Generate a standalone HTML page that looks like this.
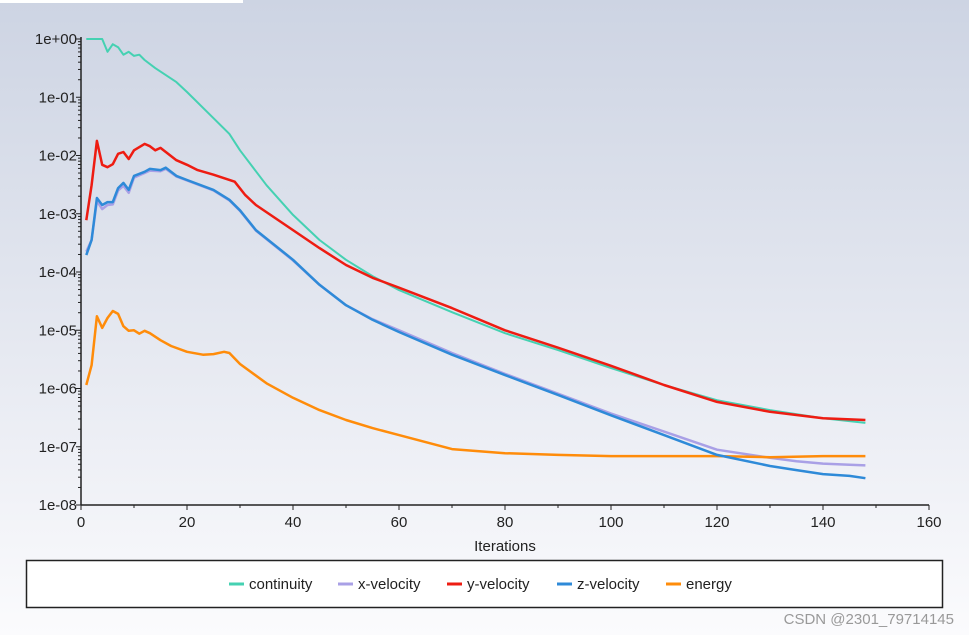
<!DOCTYPE html>
<html><head><meta charset="utf-8"><style>
body{margin:0;width:969px;height:635px;overflow:hidden;font-family:"Liberation Sans","DejaVu Sans",sans-serif;background:linear-gradient(#cdd4e3 0%,#e6e9f1 55%,#fbfbfd 100%);position:relative}
svg{position:absolute;left:0;top:0}
</style></head><body>
<svg width="969" height="635">
<rect x="0" y="0" width="243" height="3" fill="#fff"/>
<g id="plot"></g>
<text x="505" y="551" text-anchor="middle" font-size="15" fill="#222">Iterations</text>
<rect x="26.5" y="560.5" width="916" height="47" fill="#fff" stroke="#222" stroke-width="1.5"/>
<g id="legend"></g>
<text x="954" y="624" text-anchor="end" font-size="15" fill="#999">CSDN @2301_79714145</text>
</svg>
<script>
const xTicks=[0,20,40,60,80,100,120,140,160];
const yTickLabels=["1e+00","1e-01","1e-02","1e-03","1e-04","1e-05","1e-06","1e-07","1e-08"];
const seriesNames=["continuity","x-velocity","y-velocity","z-velocity","energy"];
const seriesColors=["#45d1b2","#a9a0e6","#ee1c12","#2e8ad8","#ff8c0a"];
const contIter=[1,4,5,6,7,8,9,10,11,12,14,16,18,20,25,28,30,35,40,45,50,55,60,70,80,90,100,110,120,130,140,148];
const contLog=[0,0,-0.22,-0.09,-0.14,-0.27,-0.22,-0.29,-0.27,-0.36,-0.50,-0.62,-0.74,-0.91,-1.36,-1.63,-1.91,-2.51,-3.02,-3.45,-3.79,-4.07,-4.31,-4.69,-5.05,-5.34,-5.65,-5.94,-6.20,-6.37,-6.51,-6.59];
const yvIter=[1,2,3,4,5,6,7,8,9,10,12,13,14,15,16,18,20,22,25,27,29,31,33,40,45,50,55,60,70,80,90,100,110,120,130,140,148];
const yvLog=[-3.11,-2.51,-1.75,-2.16,-2.20,-2.15,-1.97,-1.94,-2.06,-1.91,-1.80,-1.84,-1.91,-1.87,-1.94,-2.08,-2.16,-2.25,-2.33,-2.39,-2.45,-2.68,-2.85,-3.28,-3.59,-3.88,-4.10,-4.27,-4.62,-5.00,-5.30,-5.61,-5.94,-6.23,-6.40,-6.51,-6.54];
const zvIter=[1,2,3,4,5,6,7,8,9,10,12,13,15,16,18,20,25,28,30,33,40,45,50,55,60,70,80,90,100,110,120,130,135,140,145,148];
const zvLog=[-3.71,-3.45,-2.73,-2.85,-2.80,-2.80,-2.56,-2.47,-2.59,-2.35,-2.28,-2.23,-2.25,-2.21,-2.35,-2.42,-2.59,-2.76,-2.94,-3.28,-3.79,-4.22,-4.57,-4.82,-5.03,-5.42,-5.77,-6.11,-6.46,-6.80,-7.14,-7.33,-7.40,-7.47,-7.50,-7.54];
const xvIter=zvIter;
const xvLog=[-3.65,-3.45,-2.78,-2.92,-2.85,-2.84,-2.60,-2.52,-2.64,-2.38,-2.30,-2.26,-2.27,-2.23,-2.36,-2.43,-2.60,-2.77,-2.95,-3.29,-3.80,-4.22,-4.57,-4.81,-5.00,-5.39,-5.75,-6.09,-6.43,-6.74,-7.05,-7.19,-7.25,-7.29,-7.31,-7.32];
const enIter=[1,2,3,4,5,6,7,8,9,10,11,12,13,15,17,20,23,25,27,28,30,35,40,45,50,55,60,70,80,90,100,110,120,130,140,148];
const enLog=[-5.94,-5.60,-4.76,-4.96,-4.79,-4.67,-4.72,-4.93,-5.01,-5.00,-5.06,-5.01,-5.05,-5.17,-5.27,-5.37,-5.42,-5.41,-5.37,-5.39,-5.58,-5.91,-6.16,-6.37,-6.54,-6.68,-6.80,-7.04,-7.11,-7.14,-7.16,-7.16,-7.16,-7.18,-7.16,-7.16];

const X0=81,X1=929,Y0=39,Y1=505;
const xs=v=>X0+(v-0)/(160-0)*(X1-X0);
const ys=l=>Y0+(0-l)/8*(Y1-Y0);
const NS="http://www.w3.org/2000/svg";
const plot=document.getElementById('plot');
function mk(tag,attrs,parent){const e=document.createElementNS(NS,tag);for(const k in attrs)e.setAttribute(k,attrs[k]);parent.appendChild(e);return e;}
// axes
let a=mk('line',{x1:X0,y1:Y0-2,x2:X0,y2:Y1,stroke:'#222','stroke-width':1.5},plot);


a=mk('line',{x1:X0,y1:Y1,x2:X1,y2:Y1,stroke:'#222','stroke-width':1.5},plot);


yTickLabels.forEach((t,i)=>{
  const y=ys(-i);
  mk('line',{x1:X0-5,y1:y,x2:X0,y2:y,stroke:'#222'},plot);
  const tx=mk('text',{x:X0-4,y:y+5,'text-anchor':'end','font-size':15,fill:'#222'},plot);
  tx.textContent=t;
  
  
  if(i<8){for(let m=2;m<10;m++){const yy=ys(-i-1+Math.log10(m));mk('line',{x1:X0-3,y1:yy,x2:X0,y2:yy,stroke:'#222'},plot);}}
});
for(let v=0;v<=160;v+=10){const x=xs(v);mk('line',{x1:x,y1:Y1,x2:x,y2:Y1+(v%20?3:5),stroke:'#222'},plot);}
xTicks.forEach(v=>{
  const tx=mk('text',{x:xs(v),y:Y1+22,'text-anchor':'middle','font-size':15,fill:'#222'},plot);
  tx.textContent=v;
  
  
});
const series=[[contIter,contLog],[xvIter,xvLog],[yvIter,yvLog],[zvIter,zvLog],[enIter,enLog]];
const order=[0,1,2,4,3];
order.forEach(i=>{
  const [it,lg]=series[i];
  const d=it.map((v,j)=>(j?'L':'M')+xs(v).toFixed(1)+','+ys(lg[j]).toFixed(1)).join('');
  const p=mk('path',{d:d,fill:'none',stroke:seriesColors[i],'stroke-width':i==0?2:2.5,'stroke-linejoin':'round'},plot);
  
  
});
const leg=document.getElementById('legend');
const legX=[229,338,447,557,666];
seriesNames.forEach((n,i)=>{
  const g=mk('g',{},leg);
  
  
  mk('line',{x1:legX[i],y1:584,x2:legX[i]+15,y2:584,stroke:seriesColors[i],'stroke-width':3},g);
  const t=mk('text',{x:legX[i]+20,y:589,'font-size':15,fill:'#222'},g);
  t.textContent=n;
});
</script>
</body></html>
